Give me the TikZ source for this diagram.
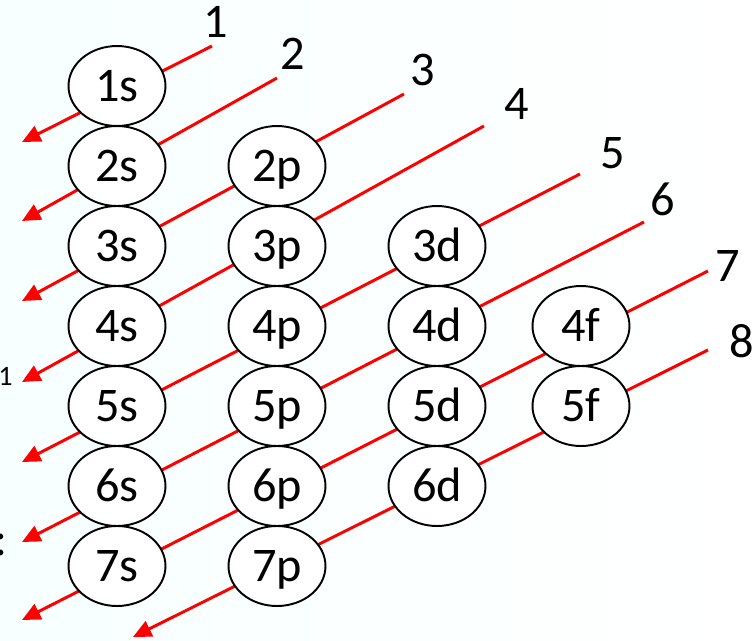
\documentclass[tikz,border=0pt]{standalone}
\usepackage{fontspec}
\setmainfont{Carlito}
\usetikzlibrary{shapes.geometric,arrows.meta}
\begin{document}
\begin{tikzpicture}[x=0.02cm,y=-0.02cm,
  orb/.style={ellipse,draw=black,line width=1.1pt,fill=white,
    minimum width=1.94cm,minimum height=1.6cm,inner sep=0pt,
    font=\fontsize{27.5}{32}\selectfont,text height=17.5pt,text depth=0pt},
  lbl/.style={font=\fontsize{27.5}{32}\selectfont,inner sep=0pt,text height=17.5pt,text depth=0pt},
  redline/.style={red,line width=1.7pt,-{Triangle[length=10.5pt,width=9.5pt]}}]
\useasboundingbox (0,0) rectangle (755,640);
\fill[left color=cyan!3,right color=white] (0,0) rectangle (755,640);
% line ends
\coordinate (t1) at (212,46);  \coordinate (a1) at (22,142);
\coordinate (t2) at (277,78);  \coordinate (a2) at (22,221);
\coordinate (t3) at (404,94);  \coordinate (a3) at (22,301);
\coordinate (t4) at (484,126); \coordinate (a4) at (22,382);
\coordinate (t5) at (580,174); \coordinate (a5) at (22,462);
\coordinate (t6) at (644,222); \coordinate (a6) at (22,542);
\coordinate (t7) at (708,271); \coordinate (a7) at (22,620);
\coordinate (t8) at (708,350); \coordinate (a8) at (133,637);
\foreach \i in {1,...,8} \draw[redline] (t\i) -- (a\i);
% orbitals
\foreach \n/\y in {1/86,2/166,3/246,4/326,5/406,6/486,7/566}
  \node[orb] (s\n) at (117,\y) {\n s};
\foreach \n/\y in {2/166,3/246,4/326,5/406,6/486,7/566}
  \node[orb] (p\n) at (277,\y) {\n p};
\foreach \n/\y in {3/246,4/326,5/406,6/486}
  \node[orb] (d\n) at (437,\y) {\n d};
\foreach \n/\y in {4/326,5/406}
  \node[orb] (f\n) at (581,\y) {\n f};
% numbers
\node[lbl] (n1) at (216,22) {1};
\node[lbl] (n2) at (293,54) {2};
\node[lbl] (n3) at (423,70) {3};
\node[lbl] (n4) at (517,104) {4};
\node[lbl] (n5) at (613,153) {5};
\node[lbl] (n6) at (663,200) {6};
\node[lbl] (n7) at (728,266) {7};
\node[lbl] (n8) at (742,342) {8};
% cut-off texts at the left edge
\node[anchor=east,inner sep=0pt,font=\fontsize{16}{18}\selectfont] (e1) at (13,376) {1};
\node[anchor=base,inner sep=0pt,font=\fontsize{27.5}{32}\selectfont] (e2) at (1,555) {:};
\end{tikzpicture}
\end{document}
